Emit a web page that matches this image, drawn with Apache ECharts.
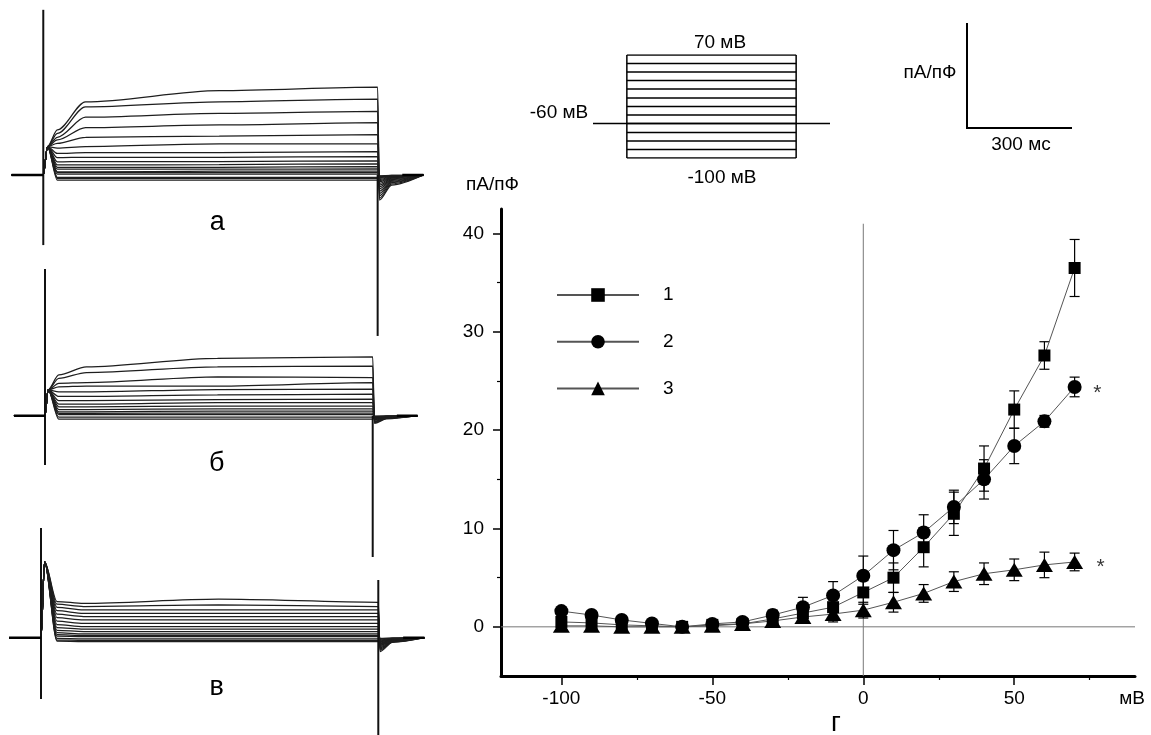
<!DOCTYPE html>
<html>
<head>
<meta charset="utf-8">
<script src="https://cdn.jsdelivr.net/npm/echarts@6/dist/echarts.min.js"></script>
<style>html,body{margin:0;padding:0;background:#fff;}#c{width:1151px;height:735px;}</style>
</head>
<body>
<div id="c"></div>
<script>
// ---------- I-V plot data ----------
const voltages = [-100,-90,-80,-70,-60,-50,-40,-30,-20,-10,0,10,20,30,40,50,60,70];
const s1 = [0.5,0.4,0.2,0.1,0.0,0.2,0.3,0.8,1.4,2.0,3.5,5.0,8.1,11.5,16.1,22.1,27.6,36.5];
const s1err = [0.3,0.3,0.3,0.3,0.3,0.3,0.3,0.5,0.8,1.0,1.2,1.5,2.0,2.2,2.3,1.9,1.4,2.9];
const s2 = [1.6,1.2,0.7,0.35,0.0,0.3,0.5,1.2,2.0,3.2,5.2,7.8,9.6,12.2,15.0,18.4,20.9,24.4];
const s2err = [0.3,0.3,0.3,0.3,0.3,0.3,0.3,0.5,1.0,1.4,2.0,2.0,1.8,1.7,2.0,1.8,0.6,1.0];
const s3 = [0.1,0.1,0.0,0.0,0.0,0.1,0.3,0.6,1.0,1.3,1.7,2.5,3.4,4.6,5.4,5.8,6.3,6.6];
const s3err = [0.4,0.4,0.4,0.3,0.3,0.3,0.3,0.4,0.5,0.8,0.8,1.0,0.9,1.0,1.1,1.1,1.3,0.9];
const seriesNames = ['1','2','3'];
const xTicks = [-100,-50,0,50];
const xMinorTicks = [-75,-25,25,75];
const yTicks = [0,10,20,30,40];
const yMinorTicks = [5,15,25,35];
const starPoints = [[77.5,24.3],[78.6,6.6]];

// ---------- current traces (pA/pF vs ms) ----------
const traceTimes = {pre:-90, start:0, early:120, mid:500, end:950, tail1:955, tail2:990, post:1080};
// panel а
const aEarly = [19.0,17.7,15.0,12.3,9.8,7.4,5.8,4.6,3.5,2.6,2.0,1.5,0.8,0.6,0.2,-0.6,-0.9,-1.3];
const aMid   = [21.9,19.0,16.0,13.0,10.1,8.1,5.8,4.6,3.5,2.7,2.0,1.5,1.0,0.6,0.2,-0.6,-0.9,-1.3];
const aLate  = [22.8,19.7,16.5,13.6,10.5,8.1,6.1,4.8,3.7,2.9,2.2,1.6,1.0,0.6,0.2,-0.6,-0.9,-1.3];
const aRise  = [11.7,10.8,9.8,9.1,8.2,7.0,5.6,4.5,3.4,2.6,2.0,1.5,0.8,0.6,0.2,-0.6,-0.9,-1.3];
const aTailMin = [-6.5,-6.0,-5.4,-4.8,-4.2,-3.6,-3.1,-2.6,-2.2,-1.8,-1.5,-1.2,-0.9,-0.7,-0.5,-0.4,-0.3,-0.2];
const aTailMid = [-2.6,-2.3,-2.0,-1.8,-1.6,-1.4,-1.2,-1.0,-0.8,-0.7,-0.6,-0.5,-0.4,-0.3,-0.2,-0.2,-0.1,-0.1];
// panel б
const bEarly = [12.7,11.2,8.6,7.7,6.2,5.0,3.9,3.0,2.3,1.6,1.0,0.6,0.3,-0.4,-0.9];
const bMid   = [14.9,12.7,10.1,7.7,6.8,5.4,4.2,3.4,2.5,1.8,1.2,0.7,0.3,-0.4,-0.9];
const bLate  = [15.3,12.9,9.9,8.6,6.9,5.6,4.3,3.4,2.5,1.8,1.2,0.7,0.3,-0.4,-0.9];
const bRise  = [10.6,9.7,8.4,7.5,6.2,5.0,3.9,3.0,2.3,1.6,1.0,0.6,0.3,-0.4,-0.9];
const bTailMin = [-2.0,-1.8,-1.6,-1.4,-1.2,-1.0,-0.9,-0.8,-0.7,-0.6,-0.5,-0.4,-0.3,-0.2,-0.1];
const bTailMid = [-0.8,-0.7,-0.6,-0.6,-0.5,-0.4,-0.4,-0.3,-0.3,-0.2,-0.2,-0.2,-0.1,-0.1,-0.1];
// panel в
const cEarly = [8.9,8.1,7.2,6.3,5.5,4.6,3.7,2.9,2.2,1.6,1.0,0.6,0.3,-0.3,-0.7,-1.0];
const cMid   = [10.0,8.5,7.2,6.3,5.5,4.6,3.7,2.9,2.2,1.6,1.0,0.6,0.3,-0.3,-0.7,-1.0];
const cLate  = [9.2,8.1,7.2,6.3,5.5,4.6,3.7,2.9,2.2,1.6,1.0,0.6,0.3,-0.3,-0.7,-1.0];
const cRise  = [9.4,8.7,7.9,7.0,6.1,5.2,4.3,3.4,2.6,1.9,1.3,0.8,0.4,-0.2,-0.6,-0.9];
const cTailMin = [-3.6,-3.2,-2.9,-2.6,-2.3,-2.0,-1.8,-1.6,-1.4,-1.2,-1.0,-0.8,-0.6,-0.4,-0.3,-0.2];
const cTailMid = [-1.2,-1.1,-1.0,-0.9,-0.8,-0.7,-0.6,-0.5,-0.5,-0.4,-0.4,-0.3,-0.2,-0.2,-0.1,-0.1];
// onset (just after capacitive transient) per panel
const onsetT = [12, 9, 10];
const onsetV = [7.4, 6.7, 19.7];
const riseT = [40, 40, 45];
// capacitive transients per panel
const spikeStartTop = [42.9, 38.1, 28.5];
const spikeStartBottom = [-18.2, -12.8, -15.9];
const spikeEndTop = [0, 0, 15.0];
const spikeEndBottom = [-41.8, -36.7, -25.3];
const panelLabels = ['а','б','в'];

// ---------- voltage protocol (drawn levels, mV) ----------
const protocolLevels = [70,56,42,28,14,-1,-15,-29,-43,-58,-72,-86,-100];
const holdingLevel = -43;

const FONT = '"Liberation Sans", Arial, sans-serif';
const chart = echarts.init(document.getElementById('c'), null, {renderer:'canvas'});

function errSeries(vals, errs) {
  return {
    type:'custom', xAxisIndex:0, yAxisIndex:0, z:2, silent:true,
    data: voltages.map((v,i)=>[v, vals[i], errs[i]]),
    encode:{x:0,y:1},
    renderItem(params, api){
      const x=api.value(0), y=api.value(1), e=api.value(2);
      const t=api.coord([x,y+e]), b=api.coord([x,y-e]);
      const hw=5, st={stroke:'#000', lineWidth:1.2};
      return {type:'group', children:[
        {type:'line', shape:{x1:t[0],y1:t[1],x2:b[0],y2:b[1]}, style:st},
        {type:'line', shape:{x1:t[0]-hw,y1:t[1],x2:t[0]+hw,y2:t[1]}, style:st},
        {type:'line', shape:{x1:b[0]-hw,y1:b[1],x2:b[0]+hw,y2:b[1]}, style:st}
      ]};
    }
  };
}

function traceSeries(p, early, mid, late, rise, tMin, tMid) {
  const ax = p + 2;
  const T = traceTimes;
  const out = early.map((e,i)=>({
    type:'line', xAxisIndex:ax, yAxisIndex:ax, symbol:'none', silent:true,
    smooth:0.3, smoothMonotone:'x',
    lineStyle:{color:'#1e1e1e', width:1.25},
    data:[[T.pre,0],[T.start,0],[onsetT[p],onsetV[p]],[riseT[p],rise[i]],[T.early,e],[T.mid,mid[i]],
          [T.end,late[i]],[T.tail1,tMin[i]],[T.tail2,tMid[i]],[T.post,0]]
  }));
  const spikeStyle = {color:'#111', width:2};
  out.push({type:'line', xAxisIndex:ax, yAxisIndex:ax, symbol:'none', silent:true, clip:false, lineStyle:spikeStyle,
    data:[[T.start,spikeStartTop[p]],[T.start,spikeStartBottom[p]]]});
  out.push({type:'line', xAxisIndex:ax, yAxisIndex:ax, symbol:'none', silent:true, clip:false, lineStyle:spikeStyle,
    data:[[T.end,spikeEndTop[p]],[T.end,spikeEndBottom[p]]]});
  out.push({type:'line', xAxisIndex:ax, yAxisIndex:ax, symbol:'none', silent:true, lineStyle:{color:'#000', width:2.5},
    data:[[T.pre,0],[T.start,0]]});
  out.push({type:'line', xAxisIndex:ax, yAxisIndex:ax, symbol:'none', silent:true, lineStyle:{color:'#000', width:2.5},
    data:[[T.tail2+30,0],[T.post,0]]});
  return out;
}

const traceX = (gi) => ({type:'value', gridIndex:gi, min:traceTimes.pre, max:traceTimes.post, show:false});
const traceY = (gi, min, max) => ({type:'value', gridIndex:gi, min:min, max:max, show:false});

const protoSeries = [];
protocolLevels.forEach(l=>protoSeries.push({type:'line', xAxisIndex:5, yAxisIndex:5, symbol:'none', silent:true,
  lineStyle:{color:'#000', width:1.5}, data:[[0,l],[1,l]]}));
protoSeries.push({type:'line', xAxisIndex:5, yAxisIndex:5, symbol:'none', silent:true, lineStyle:{color:'#000', width:1.5},
  data:[[0,protocolLevels[0]],[0,protocolLevels[protocolLevels.length-1]]]});
protoSeries.push({type:'line', xAxisIndex:5, yAxisIndex:5, symbol:'none', silent:true, lineStyle:{color:'#000', width:1.5},
  data:[[1,protocolLevels[0]],[1,protocolLevels[protocolLevels.length-1]]]});
protoSeries.push({type:'line', xAxisIndex:5, yAxisIndex:5, symbol:'none', silent:true, lineStyle:{color:'#000', width:1.5},
  data:[[-0.2,holdingLevel],[1.2,holdingLevel]]});

const txt = (x, y, s, size, align) => ({type:'text', x:x, y:y, silent:true,
  style:{text:s, fontSize:size||19, fontFamily:FONT, fill:'#000', textAlign:align||'center', textVerticalAlign:'middle'}});

const mainLine = (name, vals, symbol, size) => ({
  name:name, type:'line', xAxisIndex:0, yAxisIndex:0, z:3, symbol:symbol, symbolSize:size,
  data: voltages.map((v,i)=>[v, vals[i]]),
  lineStyle:{color:'#555', width:1}, itemStyle:{color:'#000'}, silent:true
});

const option = {
  animation:false,
  backgroundColor:'#fff',
  textStyle:{fontFamily:FONT},
  grid:[
    {left:501, right:16, top:209, bottom:59, outerBoundsMode:'none'},
    {left:11.6, width:411.8, top:0, height:350, outerBoundsMode:'none'},
    {left:13.95, width:403.6, top:240.7, height:350, outerBoundsMode:'none'},
    {left:9.05, width:415.4, top:462.7, height:272.3, outerBoundsMode:'none'},
    {left:593, width:237, top:55, height:103, outerBoundsMode:'none'}
  ],
  xAxis:[
    {type:'value', gridIndex:0, position:'bottom', min:-120, max:90,
     axisLine:{onZero:false, lineStyle:{color:'#000', width:3}},
     axisTick:{customValues:xTicks, length:9, lineStyle:{color:'#000', width:1.5}},
     axisLabel:{customValues:xTicks, fontSize:19, color:'#000', margin:13, fontFamily:FONT},
     splitLine:{show:false}},
    {type:'value', gridIndex:0, position:'bottom', offset:0, min:-120, max:90,
     axisLine:{show:false, onZero:false},
     axisTick:{customValues:xMinorTicks, length:4, lineStyle:{color:'#000', width:1.2}},
     axisLabel:{show:false}, splitLine:{show:false}},
    traceX(1), traceX(2), traceX(3),
    {type:'value', gridIndex:4, min:-0.2, max:1.2, show:false}
  ],
  yAxis:[
    {type:'value', gridIndex:0, position:'left', min:-5, max:42.5,
     axisLine:{show:true, onZero:false, lineStyle:{color:'#000', width:3}},
     axisTick:{show:true, customValues:yTicks, length:8, lineStyle:{color:'#000', width:1.5}},
     axisLabel:{customValues:yTicks, fontSize:19, color:'#000', margin:17, fontFamily:FONT},
     splitLine:{show:false}},
    {type:'value', gridIndex:0, position:'left', offset:0, min:-5, max:42.5,
     axisLine:{show:false, onZero:false},
     axisTick:{show:true, customValues:yMinorTicks, length:4, lineStyle:{color:'#000', width:1.2}},
     axisLabel:{show:false}, splitLine:{show:false}},
    traceY(1,-45.45,45.45), traceY(2,-45.45,45.45), traceY(3,-25.27,45.45),
    {type:'value', gridIndex:4, min:-100, max:70, show:false}
  ],
  legend:{
    data:seriesNames, orient:'vertical', left:551, top:280.5,
    itemWidth:82, itemHeight:17, itemGap:27.7,
    textStyle:{fontSize:19, color:'#000', lineHeight:17, padding:[0,0,0,19], fontFamily:FONT},
    selectedMode:false
  },
  series:[
    {type:'line', xAxisIndex:0, yAxisIndex:0, symbol:'none', silent:true, z:1,
     lineStyle:{color:'#777', width:1}, data:[[-120,0],[90,0]]},
    {type:'line', xAxisIndex:0, yAxisIndex:0, symbol:'none', silent:true, z:1,
     lineStyle:{color:'#777', width:1}, data:[[0,-5],[0,41]]},
    errSeries(s1, s1err), errSeries(s2, s2err), errSeries(s3, s3err),
    mainLine(seriesNames[0], s1, 'rect', 12),
    mainLine(seriesNames[1], s2, 'circle', 14),
    mainLine(seriesNames[2], s3, 'triangle', [17,14]),
    {type:'scatter', xAxisIndex:0, yAxisIndex:0, symbolSize:0, silent:true, data:starPoints,
     label:{show:true, position:'inside', formatter:'*', fontSize:21, color:'#000', offset:[0,5]}},
    ...traceSeries(0, aEarly, aMid, aLate, aRise, aTailMin, aTailMid),
    ...traceSeries(1, bEarly, bMid, bLate, bRise, bTailMin, bTailMid),
    ...traceSeries(2, cEarly, cMid, cLate, cRise, cTailMin, cTailMid),
    ...protoSeries
  ],
  graphic:[
    txt(492.5, 185, 'пА/пФ'),
    txt(1132, 699, 'мВ'),
    txt(836, 723.6, 'г', 27),
    txt(217.3, 223, panelLabels[0], 27),
    txt(216.7, 463.3, panelLabels[1], 27),
    txt(216.7, 687.3, panelLabels[2], 27),
    txt(720, 43, '70 мВ'),
    txt(559, 113, '-60 мВ'),
    txt(722, 178, '-100 мВ'),
    txt(930, 73, 'пА/пФ'),
    txt(1021, 145, '300 мс'),
    {type:'polyline', silent:true, shape:{points:[[967,23],[967,128],[1072,128]]},
     style:{stroke:'#000', lineWidth:2, fill:null}}
  ]
};
chart.setOption(option);
</script>
</body>
</html>
